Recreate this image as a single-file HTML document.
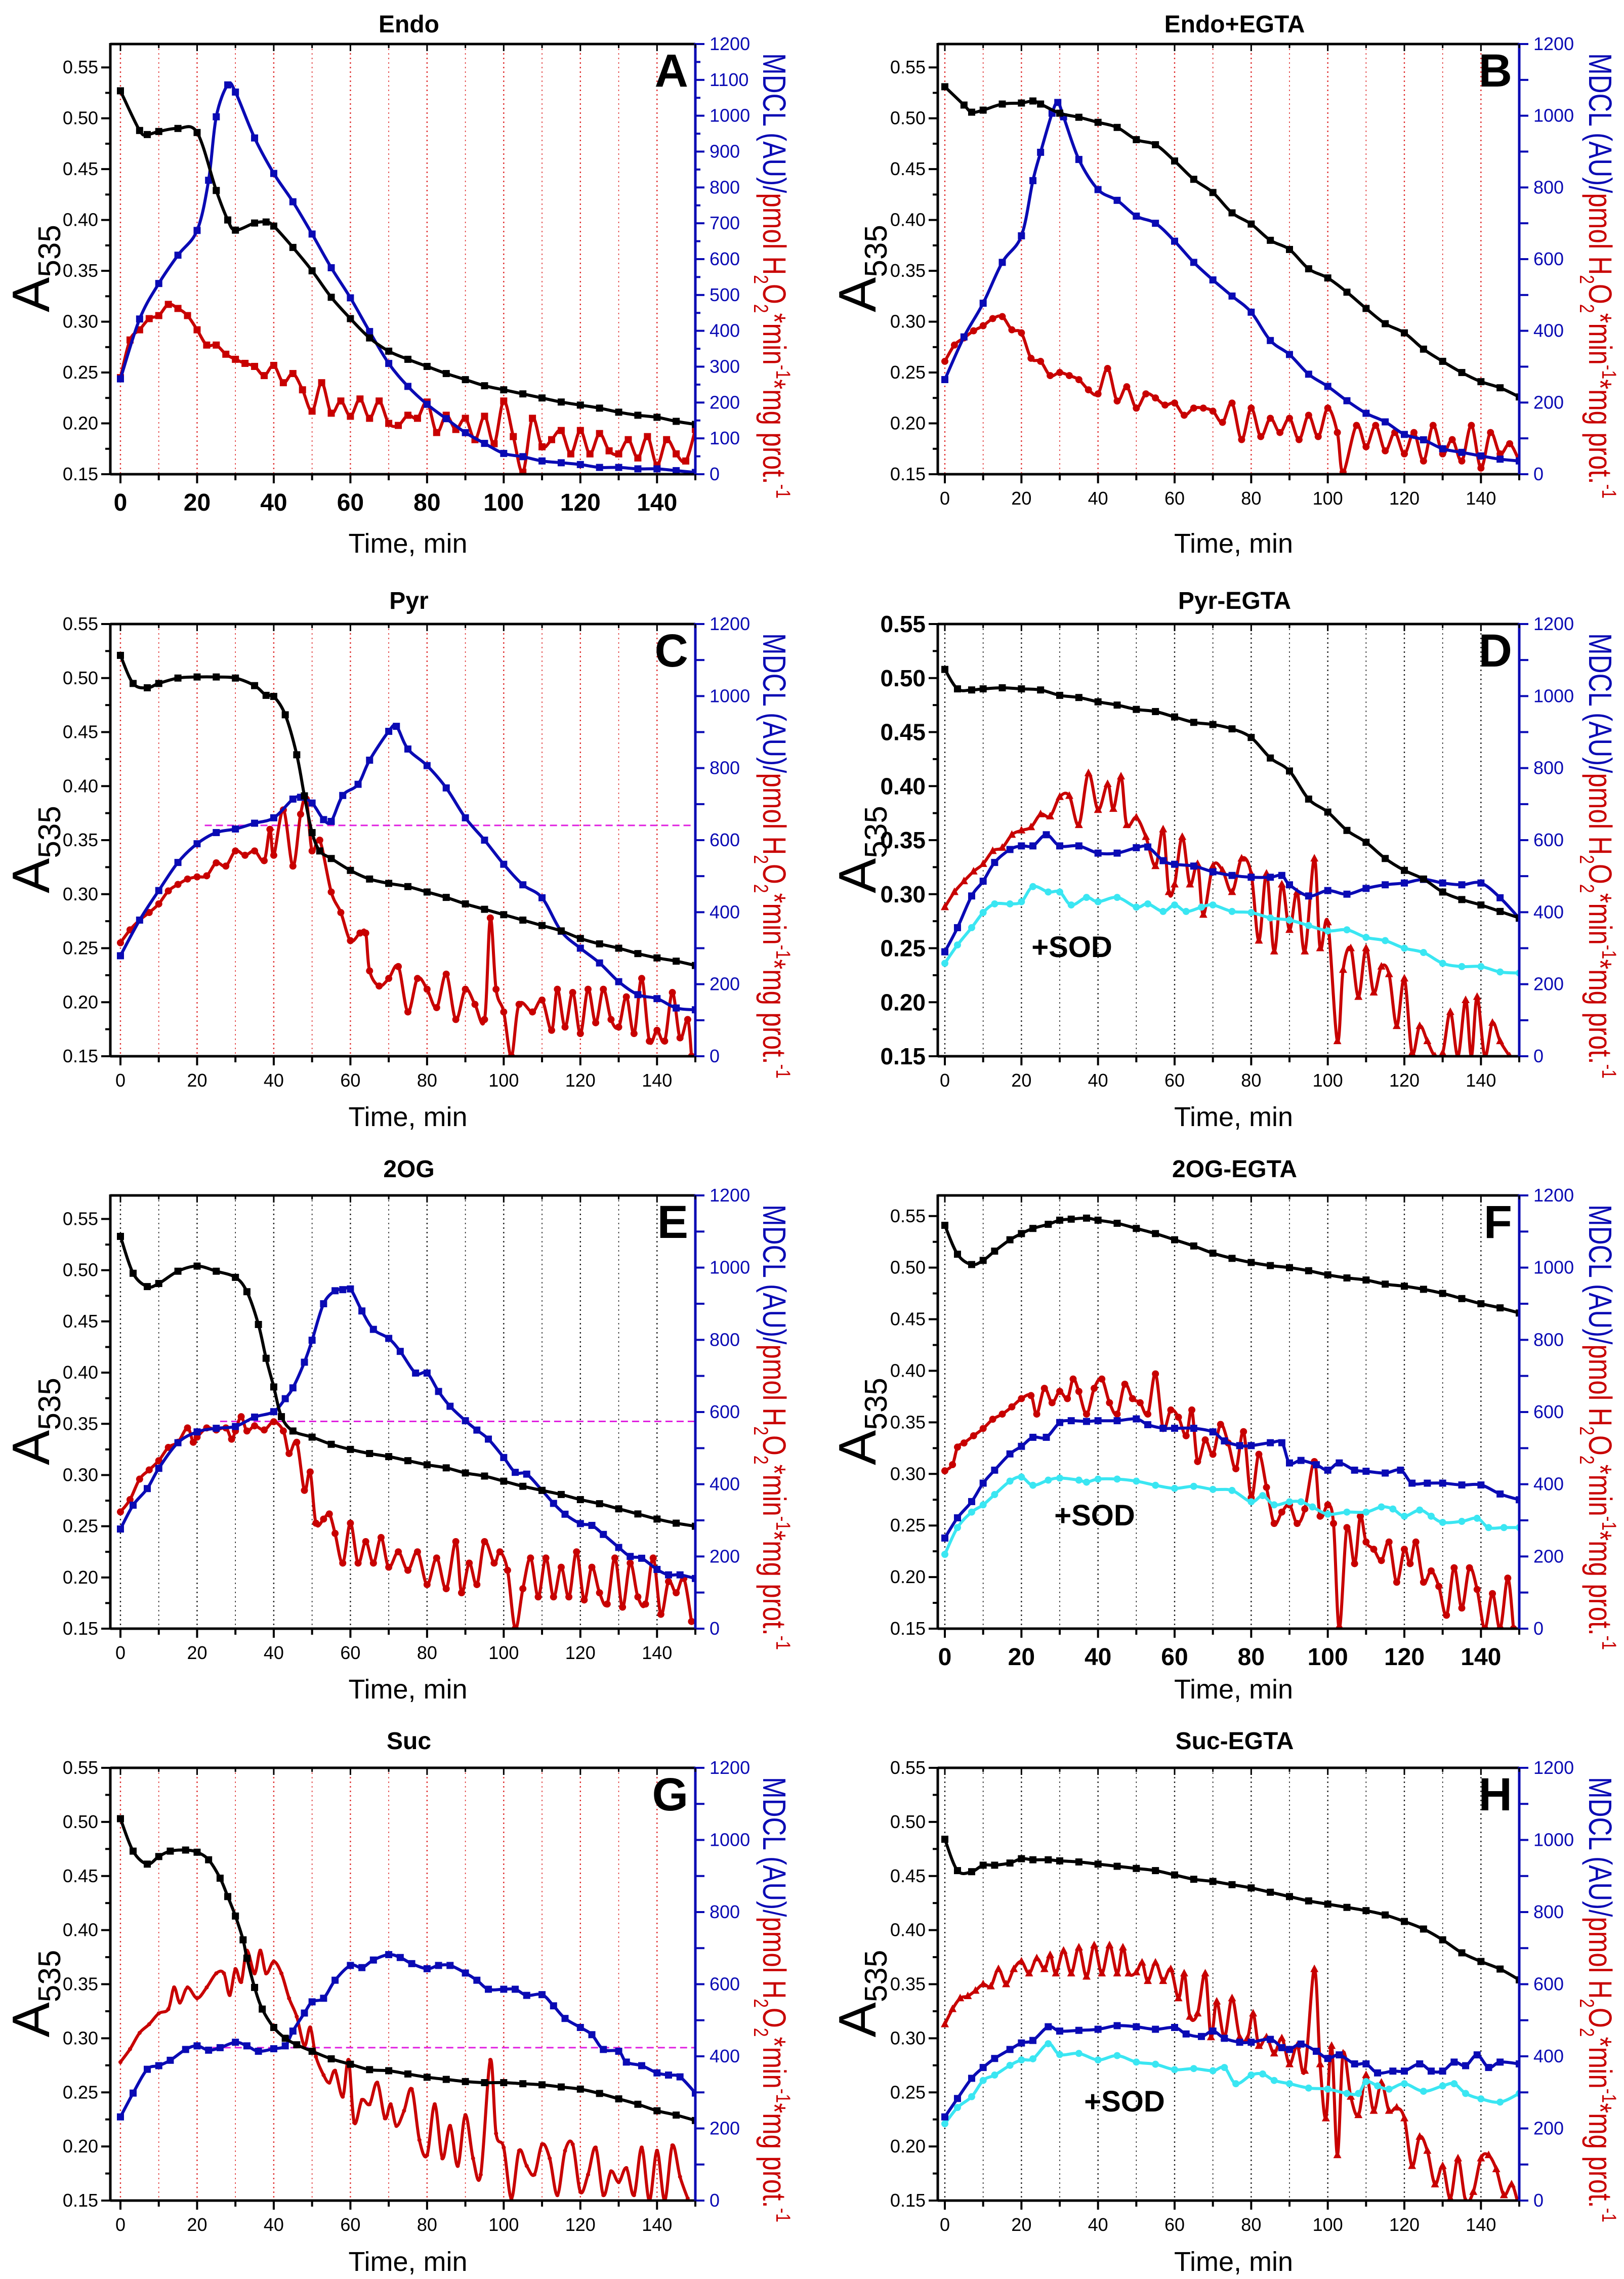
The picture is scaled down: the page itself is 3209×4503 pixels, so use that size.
<!DOCTYPE html>
<html><head><meta charset="utf-8"><title>A535 / MDCL time courses</title>
<style>
html,body{margin:0;padding:0;background:#fff;}
svg{display:block;font-family:"Liberation Sans",Arial,sans-serif;}
</style></head>
<body>
<svg id="chart" xmlns="http://www.w3.org/2000/svg" width="3209" height="4503" viewBox="0 0 3209 4503">
<rect x="0" y="0" width="3209" height="4503" fill="#fff"/>
</svg>
<script>
// ---------- DATA (black/red/cyan: A535 axis units; blue: MDCL right axis units) ----------
const A_blackT=[0,5,7,10,15,20,25,28,30,35,38,40,45,50,55,60,65,70,75,80,85,90,95,100,105,110,115,120,125,130,135,140,145,150];
const A_black=[0.527,0.488,0.484,0.487,0.490,0.486,0.429,0.400,0.390,0.397,0.398,0.394,0.373,0.350,0.324,0.303,0.284,0.271,0.263,0.256,0.249,0.243,0.237,0.233,0.229,0.225,0.221,0.218,0.215,0.211,0.208,0.206,0.202,0.199];
const A_blueT=[0,5,10,15,20,23,25,28,30,35,40,45,50,55,60,65,70,75,80,85,90,95,100,105,110,115,120,125,130,135,140,145,150];
const A_blue=[266,433,532,611,680,820,997,1086,1066,938,839,760,670,576,492,398,309,245,195,155,116,86,58,49,37,32,27,19,19,15,15,10,5];
const A_redT=[0,2.5,5,7.5,10,12.5,15,17.5,20,22.5,25,27.5,30,32.5,35,37.5,40,42.5,45,47.5,50,52.5,55,57.5,60,62.5,65,67.5,70,72.5,75,77.5,80,82.5,85,87.5,90,92.5,95,97.5,100,102.5,105,107.5,110,112.5,115,117.5,120,122.5,125,127.5,130,132.5,135,137.5,140,142.5,145,147.5,150];
const A_red=[0.245,0.282,0.292,0.303,0.306,0.317,0.313,0.306,0.292,0.277,0.277,0.268,0.263,0.259,0.256,0.247,0.257,0.240,0.249,0.233,0.212,0.240,0.210,0.222,0.207,0.224,0.205,0.222,0.200,0.198,0.208,0.205,0.221,0.191,0.208,0.194,0.205,0.184,0.207,0.180,0.222,0.187,0.152,0.205,0.177,0.184,0.193,0.170,0.193,0.170,0.190,0.173,0.170,0.184,0.166,0.187,0.159,0.184,0.170,0.163,0.194];

const B_blackT=[0,5,7,10,15,20,23,25,30,35,40,45,50,55,60,65,70,75,80,85,90,95,100,105,110,115,120,125,130,135,140,145,150];
const B_black=[0.531,0.513,0.506,0.508,0.514,0.515,0.517,0.514,0.505,0.501,0.496,0.491,0.479,0.474,0.458,0.440,0.427,0.407,0.396,0.380,0.371,0.352,0.343,0.329,0.313,0.298,0.289,0.273,0.261,0.250,0.241,0.235,0.226];
const B_blueT=[0,5,10,15,20,23,25,28,29.5,31,35,40,45,50,55,60,65,70,75,80,85,90,95,100,105,110,115,120,125,130,135,140,145,150];
const B_blue=[264,383,477,591,665,819,898,1007,1037,997,878,794,764,720,700,650,591,542,497,452,373,334,279,245,205,170,146,111,96,71,61,51,42,37];
const B_redT=[0,2.5,5,7.5,10,12.5,15,17.5,20,22.5,25,27.5,30,32.5,35,37.5,40,42.5,45,47.5,50,52.5,55,57.5,60,62.5,65,67.5,70,72.5,75,77.5,80,82.5,85,87.5,90,92.5,95,97.5,100,102.5,104,107.5,110,112.5,115,117.5,120,122.5,125,127.5,130,132.5,135,137.5,140,142.5,145,147.5,150];
const B_red=[0.261,0.277,0.284,0.291,0.296,0.303,0.305,0.292,0.289,0.264,0.261,0.247,0.250,0.247,0.243,0.233,0.229,0.254,0.222,0.236,0.215,0.229,0.225,0.218,0.220,0.208,0.215,0.215,0.212,0.201,0.220,0.184,0.215,0.187,0.205,0.191,0.205,0.184,0.208,0.187,0.215,0.191,0.152,0.198,0.177,0.198,0.173,0.191,0.170,0.191,0.163,0.198,0.170,0.184,0.163,0.198,0.156,0.191,0.170,0.180,0.163];

const C_blackT=[0,3.3,7,10,15,20,25,30,35,38,40,43,46,48,50,52,55,60,65,70,75,80,85,90,95,100,105,110,115,120,125,130,135,140,145,150];
const C_black=[0.521,0.495,0.491,0.495,0.500,0.501,0.501,0.500,0.493,0.484,0.483,0.466,0.429,0.391,0.357,0.340,0.333,0.322,0.314,0.310,0.307,0.302,0.297,0.291,0.286,0.281,0.276,0.271,0.266,0.259,0.254,0.250,0.245,0.241,0.238,0.234];
const C_blueT=[0,5,10,15,20,25,30,35,40,45,47,50,53,55,58,62,65,70,72,75,80,85,90,95,100,105,110,115,120,125,130,135,140,145,150];
const C_blue=[279,378,460,538,590,621,631,647,662,714,719,703,657,652,724,755,822,902,916,853,807,745,662,600,533,476,440,347,300,259,207,171,160,134,129];
const C_redT=[0,2.5,5,7.5,10,12.5,15,17.5,20,22.5,25,27.5,30,32.5,35,37.5,39,40,42.5,45,47,48.5,50,52,55,57.5,60,62.5,64,65,67.5,70,72.5,75,77.5,80,82.5,85,87.5,90,92.5,95,96.5,98,100,102,104,107.5,110,112.5,114,116,118,120,122,124,126,128,130,132,134,136,138,140,142,144,146,148,149];
const C_red=[0.255,0.267,0.276,0.283,0.291,0.303,0.309,0.314,0.316,0.317,0.329,0.326,0.340,0.336,0.340,0.331,0.360,0.336,0.378,0.326,0.374,0.388,0.340,0.350,0.302,0.283,0.257,0.264,0.264,0.229,0.215,0.222,0.233,0.191,0.222,0.212,0.195,0.226,0.184,0.212,0.198,0.184,0.278,0.212,0.191,0.150,0.198,0.191,0.202,0.174,0.212,0.177,0.209,0.171,0.212,0.181,0.212,0.184,0.177,0.205,0.171,0.222,0.164,0.174,0.164,0.209,0.167,0.184,0.150];
const C_refLine=[641];

const D_blackT=[0,3.3,7,10,15,20,25,30,35,40,45,50,55,60,65,70,75,80,85,90,95,100,105,110,115,120,125,130,135,140,145,150];
const D_black=[0.508,0.490,0.489,0.490,0.491,0.490,0.489,0.484,0.482,0.478,0.475,0.471,0.469,0.464,0.459,0.457,0.453,0.445,0.426,0.414,0.388,0.376,0.359,0.348,0.333,0.322,0.314,0.302,0.295,0.290,0.284,0.278];
const D_blueT=[0,3.3,7,10,13,17,20,23,26.5,30,35,40,45,50,53,57,60,65,70,75,80,85,88,90,95,100,105,110,115,120,125,130,135,140,145,150];
const D_blue=[290,357,445,486,538,574,584,584,615,584,584,564,564,579,581,543,533,528,512,502,497,497,502,476,445,460,450,466,476,481,491,481,476,481,440,383];
const D_cyanT=[0,3.3,7,10,13,17,20,23,27,30,33,37,40,45,50,53,57,60,63,67,70,75,80,85,90,95,100,105,110,115,120,125,130,135,140,145,150];
const D_cyan=[0.236,0.253,0.269,0.283,0.291,0.291,0.293,0.307,0.302,0.302,0.290,0.297,0.293,0.297,0.288,0.291,0.284,0.290,0.284,0.288,0.290,0.284,0.283,0.278,0.276,0.271,0.266,0.267,0.260,0.257,0.250,0.246,0.236,0.233,0.233,0.228,0.227];
const D_redT=[0,2.5,5,7.5,10,12.5,15,17.5,20,22.5,25,27.5,30,32.5,35,37.5,40,42.5,44,46,47.5,50,52.5,55,57,58.5,60,62,64,66,67.5,70,72.5,75,77.5,80,82,84,86,88,90,92,94,96.5,98,100,102.5,104,106,108,110,112,114,116,118,120,122,124,126,128,130,132,134,136,137.5,139,141,143,145,147.5];
const D_red=[0.288,0.302,0.312,0.321,0.328,0.340,0.343,0.355,0.359,0.362,0.374,0.372,0.390,0.391,0.364,0.412,0.378,0.402,0.379,0.409,0.364,0.371,0.353,0.326,0.360,0.302,0.309,0.353,0.309,0.328,0.281,0.326,0.322,0.302,0.333,0.319,0.257,0.319,0.247,0.309,0.267,0.302,0.247,0.333,0.250,0.274,0.164,0.230,0.250,0.205,0.250,0.209,0.233,0.226,0.178,0.222,0.153,0.178,0.164,0.150,0.153,0.191,0.150,0.202,0.150,0.205,0.150,0.181,0.164,0.150];

const E_blackT=[0,3.3,7,10,15,20,25,30,33,36,38,40,42,45,50,55,60,65,70,75,80,85,90,95,100,105,110,115,120,125,130,135,140,145,150];
const E_black=[0.533,0.497,0.484,0.487,0.499,0.504,0.499,0.493,0.479,0.447,0.414,0.386,0.357,0.343,0.337,0.330,0.325,0.321,0.318,0.314,0.310,0.307,0.302,0.299,0.294,0.289,0.285,0.281,0.276,0.272,0.267,0.262,0.257,0.253,0.250];
const E_blueT=[0,3.3,7,10,15,20,25,30,35,40,43,45,48,50,53,56,58,60,63,66,70,73,77,80,83,86,90,93,96,100,103,106,110,113,116,120,123,126,130,133,136,140,143,146,150];
const E_blue=[276,342,388,444,515,545,555,560,586,601,637,667,738,799,900,936,939,941,880,829,804,768,708,708,657,616,576,550,525,474,433,428,383,347,317,291,286,261,225,200,195,164,149,149,139];
const E_redT=[0,2.5,5,7.5,10,12.5,15,17.5,19,20,22.5,25,27.5,29,30,31.5,33,35,37.5,40,42.5,44,46,48,49.5,51,53,54.5,56,58,60,62,64,66,68,70,72.5,75,77.5,80,82.5,85,87.5,89,91,93,95,97.5,99,101,103,105,107,109,111,113,115,117,119,121,123,125,127,129,131,133,135,137,139,141,143,145,147,149];
const E_red=[0.264,0.276,0.296,0.305,0.314,0.327,0.332,0.346,0.332,0.337,0.346,0.344,0.346,0.335,0.343,0.357,0.343,0.348,0.344,0.352,0.343,0.321,0.332,0.285,0.303,0.253,0.257,0.262,0.243,0.214,0.253,0.214,0.235,0.214,0.239,0.210,0.225,0.207,0.225,0.193,0.219,0.189,0.235,0.185,0.214,0.193,0.235,0.214,0.225,0.207,0.150,0.189,0.219,0.181,0.219,0.181,0.210,0.181,0.225,0.178,0.210,0.185,0.174,0.219,0.171,0.214,0.181,0.174,0.219,0.164,0.196,0.185,0.199,0.157];
const E_refLine=[574];

const F_blackT=[0,3.3,7,10,13,17,20,23,27,30,33,37,40,45,50,55,60,65,70,75,80,85,90,95,100,105,110,115,120,125,130,135,140,145,150];
const F_black=[0.541,0.513,0.503,0.507,0.516,0.527,0.533,0.538,0.542,0.546,0.547,0.548,0.546,0.543,0.538,0.533,0.527,0.521,0.514,0.509,0.505,0.502,0.500,0.497,0.493,0.490,0.488,0.484,0.482,0.479,0.475,0.470,0.465,0.461,0.456];
const F_blueT=[0,3.3,7,10,13,17,20,23,26.5,30,33,37,40,45,50,53,57,60,65,70,73,77,80,85,88,90,93,97,100,103,107,110,115,119,122,126,130,135,140,145,150];
const F_blue=[251,307,352,403,439,484,505,530,530,571,576,574,576,576,581,565,555,555,555,545,520,507,507,515,515,459,466,454,439,459,439,436,431,439,403,403,403,398,398,373,357];
const F_cyanT=[0,3.3,7,10,13,17,20,23,27,30,35,37,40,45,50,55,60,65,70,75,80,83,86,90,93,96,100,105,110,114,117,120,124,127,130,135,139,142,146,150];
const F_cyan=[0.222,0.248,0.263,0.270,0.280,0.293,0.297,0.289,0.294,0.296,0.294,0.292,0.295,0.295,0.293,0.289,0.286,0.288,0.285,0.284,0.273,0.279,0.270,0.273,0.273,0.268,0.261,0.263,0.263,0.268,0.266,0.259,0.265,0.259,0.253,0.254,0.257,0.248,0.248,0.248];
const F_redT=[0,2,3.3,5,7.5,10,12.5,15,17.5,20,22.5,24,26,28,30,32,33.5,35,37,39,41,43,45,47,49,51,53,55,57,59,61,63,64.5,66,68,70,72,74,76,78,80,82,84,86,88,90,92,94,96.5,98,100,101.5,103,105,107,108.5,110,112,114,116,118,120,121.5,123,125,127,129,131,133,135,137,139,141,143,145,147,148.5];
const F_red=[0.303,0.309,0.326,0.330,0.337,0.344,0.353,0.358,0.365,0.373,0.376,0.358,0.383,0.369,0.380,0.373,0.392,0.380,0.358,0.383,0.392,0.369,0.358,0.387,0.373,0.369,0.358,0.397,0.344,0.362,0.355,0.337,0.362,0.312,0.333,0.319,0.348,0.330,0.305,0.341,0.277,0.319,0.287,0.252,0.263,0.270,0.252,0.266,0.312,0.259,0.270,0.252,0.150,0.248,0.213,0.259,0.234,0.227,0.216,0.234,0.195,0.227,0.213,0.234,0.195,0.206,0.191,0.163,0.209,0.170,0.209,0.188,0.150,0.184,0.150,0.199,0.150];

const G_blackT=[0,3.3,7,10,13,17,20,23,26,28,30,32,33,35,37,40,43,46,50,55,60,65,70,75,80,85,90,95,100,105,110,115,120,125,130,135,140,145,150];
const G_black=[0.503,0.473,0.461,0.468,0.473,0.474,0.472,0.465,0.448,0.431,0.413,0.391,0.374,0.347,0.327,0.310,0.300,0.294,0.288,0.281,0.276,0.271,0.270,0.267,0.264,0.262,0.260,0.259,0.259,0.258,0.257,0.255,0.253,0.249,0.244,0.239,0.233,0.229,0.224];
const G_blueT=[0,3.3,7,10,13,17,20,23,26,30,33,36,40,43,45,48,50,53,56,60,63,66,70,73,76,80,83,86,90,93,96,100,103,106,110,113,116,120,123,126,130,132,136,140,143,146,150];
const G_blue=[232,298,364,374,389,419,429,417,424,439,429,414,421,429,470,520,551,561,611,652,646,667,682,674,657,643,652,652,631,611,586,586,586,569,571,540,505,480,460,419,414,384,374,354,348,343,298];
const G_redT=[0,2.5,5,7.5,10,12.5,14,15.5,17.5,20,22.5,25,27,28.5,30,31.5,33,35,36.5,38,40,42,44,46,48,49.5,51,53,54.5,56,58,59.5,61,63,65,67,69,70.5,72,74,76,78,80,82,84,86,88,90,92,94,96.5,98,100,102,104,106,108,110,112,114,116,118,120,122,124,126,128,130,132,134,136,138,140,142,144,146,148];
const G_red=[0.278,0.290,0.305,0.313,0.323,0.327,0.347,0.333,0.347,0.337,0.347,0.360,0.360,0.340,0.364,0.352,0.381,0.360,0.381,0.360,0.371,0.360,0.337,0.320,0.293,0.310,0.283,0.266,0.259,0.270,0.246,0.280,0.222,0.243,0.239,0.259,0.226,0.239,0.219,0.233,0.253,0.206,0.192,0.239,0.189,0.219,0.182,0.229,0.189,0.174,0.280,0.212,0.199,0.152,0.196,0.182,0.174,0.202,0.189,0.155,0.196,0.202,0.158,0.174,0.199,0.155,0.177,0.167,0.180,0.155,0.199,0.150,0.196,0.150,0.201,0.172,0.152];
const G_refLine=[424];

const H_blackT=[0,3.3,7,10,13,17,20,23,27,30,35,40,45,50,55,60,65,70,75,80,85,90,95,100,105,110,115,120,125,130,135,140,145,150];
const H_black=[0.484,0.455,0.454,0.460,0.460,0.462,0.466,0.465,0.465,0.464,0.463,0.461,0.459,0.457,0.455,0.451,0.447,0.445,0.442,0.439,0.435,0.431,0.427,0.424,0.421,0.418,0.414,0.408,0.401,0.391,0.379,0.371,0.364,0.354];
const H_blueT=[0,3.3,7,10,13,17,20,23,27,30,35,40,45,50,55,60,63,67,70,73,77,80,85,88,90,93,97,100,103,107,110,113,117,120,124,127,130,133,136,139,142,145,150];
const H_blue=[232,283,339,369,394,419,437,444,482,470,472,475,485,482,475,480,462,455,470,450,439,439,447,424,419,434,414,394,404,379,379,354,359,359,379,359,359,384,374,404,369,384,379];
const H_cyanT=[0,3.3,7,10,13,17,20,23,27,30,35,40,45,50,55,60,65,70,73,76,80,83,86,90,95,100,105,108,110,113,116,120,125,130,133,136,140,145,150];
const H_cyan=[0.221,0.236,0.246,0.261,0.266,0.275,0.280,0.281,0.295,0.285,0.286,0.280,0.284,0.278,0.276,0.271,0.272,0.270,0.273,0.258,0.266,0.267,0.261,0.258,0.254,0.253,0.249,0.249,0.260,0.256,0.253,0.258,0.251,0.256,0.258,0.249,0.244,0.241,0.249];
const H_redT=[0,2,4,6,8,10,12,14,16,18,20,22,24,26,27.5,29,31,33,35,37,39,41,43,45,46.5,48,50,51.5,53,55,57,59,61,62.5,64,66,68,69.5,71,73,75,77,79,80.5,82,84,86,88,90,92,94,96.5,98,99.5,101,102.5,104,106,108,110,112,114,116,118,120,122,124,126,128,130,132,134,136,138,140,142,144,146,148,149.5];
const H_red=[0.313,0.327,0.337,0.339,0.344,0.350,0.348,0.364,0.350,0.364,0.371,0.360,0.374,0.364,0.377,0.360,0.381,0.360,0.384,0.357,0.386,0.360,0.386,0.360,0.384,0.360,0.361,0.370,0.353,0.370,0.353,0.364,0.337,0.360,0.320,0.323,0.360,0.301,0.334,0.301,0.337,0.301,0.300,0.323,0.293,0.301,0.286,0.300,0.276,0.293,0.270,0.364,0.276,0.226,0.293,0.192,0.286,0.246,0.229,0.266,0.233,0.259,0.233,0.236,0.226,0.182,0.209,0.196,0.165,0.182,0.152,0.189,0.150,0.158,0.189,0.192,0.179,0.155,0.165,0.150];
const H_refLine=[];

const leftTicks=[0.15,0.20,0.25,0.30,0.35,0.40,0.45,0.50,0.55];
const xTicks=[0,20,40,60,80,100,120,140];

// ---------- LAYOUT / STYLE ----------
const svg=document.getElementById('chart');
const NS='http://www.w3.org/2000/svg';
function mk(tag,attrs,parent){const e=document.createElementNS(NS,tag);for(const k in attrs)e.setAttribute(k,attrs[k]);(parent||svg).appendChild(e);return e;}
const COLS=[{x0:218,x1:1374,xmin:-2.64,axX:97,rtX:1508},{x0:1853,x1:3002,xmin:-1.85,axX:1730,rtX:3140}];
const ROWS=[{y0:87,y1:937,title:64,xl:1092},{y0:1233,y1:2087,title:1203,xl:2225},{y0:2362,y1:3218,title:2326,xl:3356},{y0:3493,y1:4348,title:3456,xl:4487}];
const BLUE='#0a0ab4', RED='#c80000', CYAN='#3ae6f2', MAG='#e020e0';

const panels=[
 {id:'A',title:'Endo',c:0,r:0,top:0.573,grid:'#e03030',xb:true,yb:false,rstep:100,rm:'square',bk:A_blackT,bv:A_black,blT:A_blueT,bl:A_blue,rT:A_redT,rv:A_red},
 {id:'B',title:'Endo+EGTA',c:1,r:0,top:0.573,grid:'#e03030',xb:false,yb:false,rstep:200,rm:'circle',bk:B_blackT,bv:B_black,blT:B_blueT,bl:B_blue,rT:B_redT,rv:B_red},
 {id:'C',title:'Pyr',c:0,r:1,top:0.55,grid:'#e03030',xb:false,yb:false,rstep:200,rm:'circle',bk:C_blackT,bv:C_black,blT:C_blueT,bl:C_blue,rT:C_redT,rv:C_red,ref:C_refLine,refT:22},
 {id:'D',title:'Pyr-EGTA',c:1,r:1,top:0.55,grid:'#222',xb:false,yb:true,rstep:200,rm:'tri',bk:D_blackT,bv:D_black,blT:D_blueT,bl:D_blue,rT:D_redT,rv:D_red,cT:D_cyanT,cv:D_cyan,sod:[2118,1871]},
 {id:'E',title:'2OG',c:0,r:2,top:0.573,grid:'#222',xb:false,yb:false,rstep:200,rm:'circle',bk:E_blackT,bv:E_black,blT:E_blueT,bl:E_blue,rT:E_redT,rv:E_red,ref:E_refLine,refT:26},
 {id:'F',title:'2OG-EGTA',c:1,r:2,top:0.57,grid:'#222',xb:true,yb:false,rstep:200,rm:'circle',bk:F_blackT,bv:F_black,blT:F_blueT,bl:F_blue,rT:F_redT,rv:F_red,cT:F_cyanT,cv:F_cyan,sod:[2163,2994]},
 {id:'G',title:'Suc',c:0,r:3,top:0.55,grid:'#e03030',xb:false,yb:false,rstep:200,rm:'dot',bk:G_blackT,bv:G_black,blT:G_blueT,bl:G_blue,rT:G_redT,rv:G_red,ref:G_refLine,refT:24},
 {id:'H',title:'Suc-EGTA',c:1,r:3,top:0.55,grid:'#222',xb:false,yb:false,rstep:200,rm:'tri',bk:H_blackT,bv:H_black,blT:H_blueT,bl:H_blue,rT:H_redT,rv:H_red,cT:H_cyanT,cv:H_cyan,sod:[2222,4152]}
];

function smooth(pts){
  let d='M'+pts[0][0].toFixed(1)+','+pts[0][1].toFixed(1);
  for(let i=0;i<pts.length-1;i++){
    const p0=pts[i-1]||pts[i],p1=pts[i],p2=pts[i+1],p3=pts[i+2]||p2;
    const c1x=p1[0]+(p2[0]-p0[0])/6,c1y=p1[1]+(p2[1]-p0[1])/6;
    const c2x=p2[0]-(p3[0]-p1[0])/6,c2y=p2[1]-(p3[1]-p1[1])/6;
    d+=' C'+c1x.toFixed(1)+','+c1y.toFixed(1)+' '+c2x.toFixed(1)+','+c2y.toFixed(1)+' '+p2[0].toFixed(1)+','+p2[1].toFixed(1);
  }
  return d;
}
function marker(g,kind,x,y,color){
  let m;
  if(kind==='square'){m=mk('rect',{x:x-7,y:y-7,width:14,height:14,fill:color},g);}
  else if(kind==='circle'){m=mk('circle',{cx:x,cy:y,r:7,fill:color},g);}
  else if(kind==='dot'){m=mk('circle',{cx:x,cy:y,r:4,fill:color},g);}
  else {m=mk('polygon',{points:(x)+','+(y-9)+' '+(x-8)+','+(y+6)+' '+(x+8)+','+(y+6),fill:color},g);}
  return m;
}

panels.forEach(p=>{
  const C=COLS[p.c],R=ROWS[p.r];
  const x0=C.x0,x1=C.x1,y0=R.y0,y1=R.y1;
  const xs=t=>x0+(t-C.xmin)*(x1-x0)/(150-C.xmin);
  const yL=v=>y1-(v-0.15)/(p.top-0.15)*(y1-y0);
  const yR=v=>y1-v/1200*(y1-y0);
  const g=mk('g',{});
  
  
  const cp=mk('clipPath',{id:'clip'+p.id},g);
  mk('rect',{x:x0,y:y0,width:x1-x0,height:y1-y0},cp);

  const ti=mk('text',{x:(x0+x1)/2+12,y:R.title,'text-anchor':'middle','font-size':48,'font-weight':'bold',fill:'#000'},g);
  ti.textContent=p.title;
  
  

  const gg=mk('g',{},g);
  
  
  for(let t=0;t<=140;t+=10){
    mk('line',{x1:xs(t),x2:xs(t),y1:y0,y2:y1,stroke:p.grid,'stroke-width':(t%20===0)?2.4:1.6,'stroke-dasharray':'3,6'},gg);
  }

  if(p.ref&&p.ref.length){
    const rl=mk('line',{x1:xs(p.refT),x2:x1,y1:yR(p.ref[0]),y2:yR(p.ref[0]),stroke:MAG,'stroke-width':3,'stroke-dasharray':'14,8'},g);
    
    
  }

  const plot=mk('g',{'clip-path':'url(#clip'+p.id+')'},g);
  function series(T,V,scale,color,mkind,name,w){
    const sg=mk('g',{},plot);
    
    
    const pts=T.map((t,i)=>[xs(t),scale(V[i])]);
    const path=mk('path',{d:smooth(pts),fill:'none',stroke:color,'stroke-width':w,'stroke-linejoin':'round'},sg);
    
    
    pts.forEach(pt=>{
      const m=marker(sg,mkind,pt[0],pt[1],color);
      
      
    });
  }
  series(p.rT,p.rv,yL,RED,p.rm,'h2o2-series',6);
  if(p.cT) series(p.cT,p.cv,yL,CYAN,'circle','mdcl-sod-series',6);
  series(p.blT,p.bl,yR,BLUE,'square','mdcl-series',6);
  series(p.bk,p.bv,yL,'#000','square','a535-series',6);

  const ax=mk('g',{},g);
  
  
  mk('line',{x1:x0,x2:x1,y1:y0,y2:y0,stroke:'#000','stroke-width':5},ax);
  mk('line',{x1:x0,x2:x1,y1:y1,y2:y1,stroke:'#000','stroke-width':5},ax);
  mk('line',{x1:x0,x2:x0,y1:y0-2,y2:y1+2,stroke:'#000','stroke-width':5},ax);
  mk('line',{x1:x1,x2:x1,y1:y0-2,y2:y1+2,stroke:BLUE,'stroke-width':5},ax);

  for(let v=0.15;v<=p.top+1e-6;v+=0.025){
    const major=Math.abs(v*20-Math.round(v*20))<1e-6;
    mk('line',{x1:x0,x2:x0-(major?18:10),y1:yL(v),y2:yL(v),stroke:'#000','stroke-width':4},ax);
  }
  leftTicks.forEach(v=>{
    const t=mk('text',{x:x0-24,y:yL(v)+(p.yb?16:12),'text-anchor':'end','font-size':p.yb?46:36,'font-weight':p.yb?'bold':'normal',fill:'#000'},ax);
    t.textContent=v.toFixed(2);
    
    
  });
  const half=p.rstep/2;
  for(let v=0;v<=1200;v+=half){
    const major=(v%p.rstep===0)||(p.rstep===200&&v%100===0);
    mk('line',{x1:x1,x2:x1+(major?18:10),y1:yR(v),y2:yR(v),stroke:BLUE,'stroke-width':4},ax);
  }
  for(let v=0;v<=1200;v+=p.rstep){
    const t=mk('text',{x:x1+28,y:yR(v)+12,'font-size':36,fill:BLUE},ax);
    t.textContent=String(v);
    
    
  }
  for(let t=0;t<=150;t+=10){
    mk('line',{x1:xs(t),x2:xs(t),y1:y1,y2:y1+(t%20===0?18:12),stroke:'#000','stroke-width':4},ax);
    mk('line',{x1:xs(t),x2:xs(t),y1:y0,y2:y0+(t%20===0?14:8),stroke:'#000','stroke-width':3},ax);
  }
  xTicks.forEach(v=>{
    const t=mk('text',{x:xs(v),y:y1+(p.xb?72:60),'text-anchor':'middle','font-size':p.xb?48:36,'font-weight':p.xb?'bold':'normal',fill:'#000'},ax);
    t.textContent=String(v);
    
    
  });

  const xt=mk('text',{x:(x0+x1)/2+10,y:R.xl,'text-anchor':'middle','font-size':54,fill:'#000'},g);
  xt.textContent='Time, min';
  
  

  const yt=mk('text',{transform:'translate('+C.axX+','+((y0+y1)/2+105)+') rotate(-90)','font-size':104,fill:'#000'},g);
  
  
  yt.innerHTML='A<tspan font-size="62" dy="22">535</tspan>';

  const rt=mk('text',{transform:'translate('+C.rtX+','+(y0+18)+') rotate(90)','font-size':64,textLength:880,lengthAdjust:'spacingAndGlyphs'},g);
  
  
  rt.innerHTML='<tspan fill="'+BLUE+'">MDCL (AU)/</tspan><tspan fill="'+RED+'">pmol H<tspan font-size="40" dy="18">2</tspan><tspan dy="-18">O</tspan><tspan font-size="40" dy="18">2</tspan><tspan dy="-18">*min</tspan><tspan font-size="40" dy="-26">-1</tspan><tspan dy="26">*mg prot.</tspan><tspan font-size="40" dy="-26">-1</tspan></tspan>';

  const lt=mk('text',{x:x1-14,y:y0+84,'text-anchor':'end','font-size':92,'font-weight':'bold',fill:'#000'},g);
  lt.textContent=p.id;
  
  

  if(p.sod){
    const s=mk('text',{x:p.sod[0],y:p.sod[1]+20,'text-anchor':'middle','font-size':58,'font-weight':'bold',fill:'#000'},g);
    s.textContent='+SOD';
    
    
  }
});
</script>
</body></html>
